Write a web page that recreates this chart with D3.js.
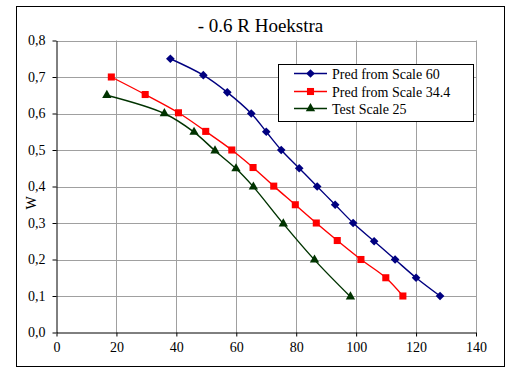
<!DOCTYPE html>
<html>
<head>
    <meta charset="UTF-8">
    <title>- 0.6 R Hoekstra</title>
    <script src="https://cdnjs.cloudflare.com/ajax/libs/d3/7.8.5/d3.min.js"></script>
    <style>
        * {
            margin: 0;
            padding: 0;
            box-sizing: border-box;
        }

        body {
            background-color: white;
            font-family: 'Liberation Serif';
        }
    </style>
</head>
<body>
    <div id="chart"></div>

    <script>
        // Data
        const pred60X = [38, 49, 57, 65, 70, 75, 81, 87, 93, 99, 106, 113, 120, 128];
        const pred60Y = [0.75, 0.705, 0.658, 0.60, 0.55, 0.50, 0.45, 0.40, 0.35, 0.30, 0.25, 0.20, 0.15, 0.10];

        const pred344X = [18.3, 29.6, 40.7, 49.8, 58.5, 65.6, 72.5, 79.7, 86.7, 93.7, 101.6, 109.9, 115.6];
        const pred344Y = [0.70, 0.652, 0.602, 0.551, 0.50, 0.452, 0.401, 0.35, 0.30, 0.252, 0.20, 0.15, 0.10];

        const test25X = [16.8, 36, 45.9, 52.9, 59.9, 65.7, 75.7, 86.1, 98.1];
        const test25Y = [0.65, 0.60, 0.549, 0.498, 0.449, 0.399, 0.298, 0.199, 0.098];

        const xTicks = [0, 20, 40, 60, 80, 100, 120, 140];
        const yTicks = [0, 0.1, 0.2, 0.3, 0.4, 0.5, 0.6, 0.7, 0.8];

        const diamond = d3.symbolDiamond2 || d3.symbolDiamond;

        const series = [
            { name: 'Pred from Scale 60', xs: pred60X, ys: pred60Y, color: '#000080', symbol: diamond, size: 48 },
            { name: 'Pred from Scale 34.4', xs: pred344X, ys: pred344Y, color: '#ff0000', symbol: d3.symbolSquare, size: 50 },
            { name: 'Test Scale 25', xs: test25X, ys: test25Y, color: '#003300', symbol: d3.symbolTriangle, size: 38 }
        ];

        const serif = 'Liberation Serif';
        const W = 508, H = 369;
        const plot = { left: 56.5, right: 476, top: 40.5, bottom: 332.5 };

        const svg = d3.select('#chart')
            .append('svg')
            .attr('width', W)
            .attr('height', H)
            .attr('font-family', serif);

        // Outer chart border
        svg.append('rect')
            .attr('x', 16.5)
            .attr('y', 6.5)
            .attr('width', 488)
            .attr('height', 360)
            .attr('fill', 'white')
            .attr('stroke', '#000')
            .attr('stroke-width', 1);

        const x = d3.scaleLinear().domain([0, 140]).range([plot.left, plot.right]);
        const y = d3.scaleLinear().domain([0, 0.8]).range([plot.bottom, plot.top]);

        // Grid lines
        svg.append('g')
            .selectAll('line.vgrid')
            .data(xTicks.slice(1))
            .enter()
            .append('line')
            .attr('x1', d => Math.round(x(d)) + 0.5)
            .attr('x2', d => Math.round(x(d)) + 0.5)
            .attr('y1', plot.top)
            .attr('y2', plot.bottom)
            .attr('stroke', '#a0a0a0');

        svg.append('g')
            .selectAll('line.hgrid')
            .data(yTicks.slice(1))
            .enter()
            .append('line')
            .attr('x1', plot.left)
            .attr('x2', plot.right)
            .attr('y1', d => Math.round(y(d)) + 0.5)
            .attr('y2', d => Math.round(y(d)) + 0.5)
            .attr('stroke', '#a0a0a0');

        // Axes
        const fmtY = d => d3.format('.1f')(d).replace('.', ',');

        const xAxis = svg.append('g')
            .attr('transform', `translate(0,${plot.bottom})`)
            .call(d3.axisBottom(x).tickValues(xTicks).tickSize(4).tickPadding(6).tickSizeOuter(0));

        const yAxis = svg.append('g')
            .attr('transform', `translate(${plot.left},0)`)
            .call(d3.axisLeft(y).tickValues(yTicks).tickFormat(fmtY).tickSize(4).tickPadding(7).tickSizeOuter(0));

        [xAxis, yAxis].forEach(g => {
            g.attr('font-family', serif).attr('font-size', 14);
            g.select('.domain').attr('stroke', '#000');
            g.selectAll('.tick line').attr('stroke', '#000');
            g.selectAll('.tick text')
                .attr('font-family', serif)
                .attr('fill', '#000');
        });

        // Title and axis label
        svg.append('text')
            .attr('x', 260.5)
            .attr('y', 32)
            .attr('text-anchor', 'middle')
            .attr('font-family', serif)
            .attr('font-size', 19)
            .text('- 0.6 R Hoekstra');

        svg.append('text')
            .attr('transform', 'translate(36,203) rotate(-90)')
            .attr('text-anchor', 'middle')
            .attr('font-family', serif)
            .attr('font-size', 14)
            .text('W');

        // Series lines and markers
        const line = d3.line()
            .x(d => x(d[0]))
            .y(d => y(d[1]))
            .curve(d3.curveCatmullRom.alpha(0.5));

        series.forEach(s => {
            const pts = s.xs.map((v, i) => [v, s.ys[i]]);

            svg.append('path')
                .datum(pts)
                .attr('d', line)
                .attr('fill', 'none')
                .attr('stroke', s.color)
                .attr('stroke-width', 1.4);

            svg.append('g')
                .selectAll('path')
                .data(pts)
                .enter()
                .append('path')
                .attr('transform', d => `translate(${x(d[0])},${y(d[1])})`)
                .attr('d', d3.symbol().type(s.symbol).size(s.size))
                .attr('fill', s.color);
        });

        // Legend
        const legend = svg.append('g');

        legend.append('rect')
            .attr('x', 278.5)
            .attr('y', 64.5)
            .attr('width', 195)
            .attr('height', 57)
            .attr('fill', 'white')
            .attr('stroke', '#000');

        const rowY = [73.5, 91.5, 108.5];

        series.forEach((s, i) => {
            const row = legend.append('g').attr('transform', `translate(0,${rowY[i]})`);

            row.append('line')
                .attr('x1', 294)
                .attr('x2', 327)
                .attr('stroke', s.color)
                .attr('stroke-width', 1.4);

            row.append('path')
                .attr('transform', 'translate(310.5,0)')
                .attr('d', d3.symbol().type(s.symbol).size(s.size))
                .attr('fill', s.color);

            row.append('text')
                .attr('x', 332)
                .attr('y', 5)
                .attr('font-family', serif)
                .attr('font-size', 14)
                .text(s.name);
        });
    </script>
</body>
</html>
